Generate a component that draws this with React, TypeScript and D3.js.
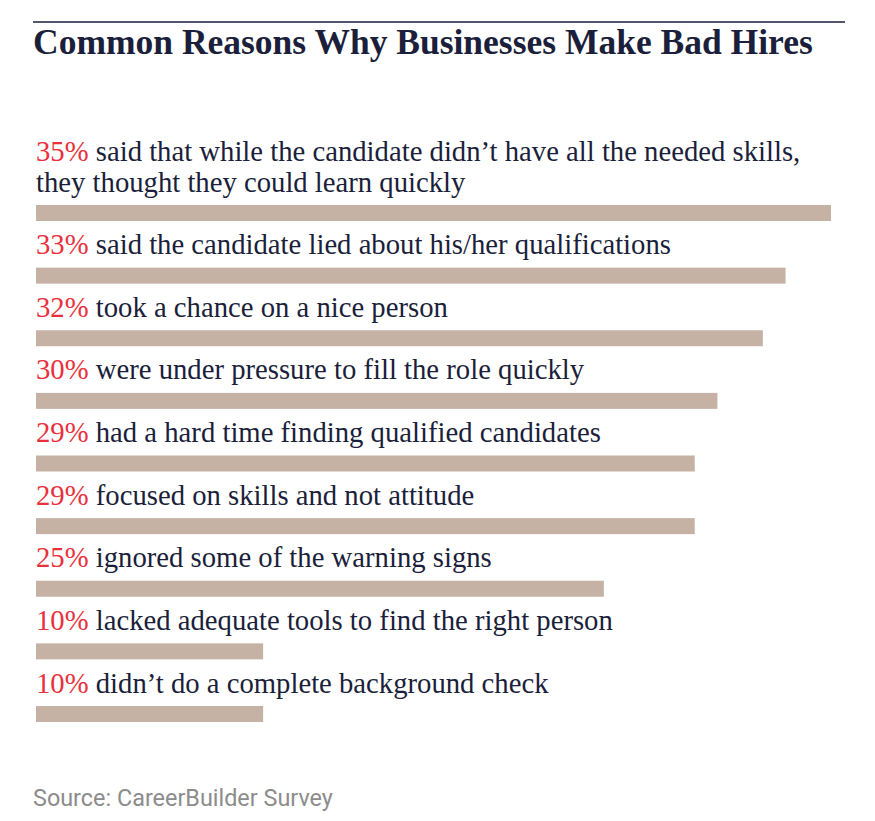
import React from "react";
import * as d3 from "d3";

// values
const percents: number[] = [35, 33, 32, 30, 29, 29, 25, 10, 10];
const reasons: string[][] = [
  ["said that while the candidate didn\u2019t have all the needed skills,", "they thought they could learn quickly"],
  ["said the candidate lied about his/her qualifications"],
  ["took a chance on a nice person"],
  ["were under pressure to fill the role quickly"],
  ["had a hard time finding qualified candidates"],
  ["focused on skills and not attitude"],
  ["ignored some of the warning signs"],
  ["lacked adequate tools to find the right person"],
  ["didn\u2019t do a complete background check"],
];
const title = "Common Reasons Why Businesses Make Bad Hires";
const source = "Source: CareerBuilder Survey";

const width = 875;
const height = 821;

const App: React.FC = () => {
  const idx = d3.range(percents.length);
  const x = d3.scaleLinear().domain([0, 35]).range([36, 831]);
  const y = d3.scalePoint<number>().domain(idx).range([205, 706]);
  const barH = 16;
  const serif = "'Liberation Serif', 'DejaVu Serif', serif";

  return (
    <svg width={width} height={height} style={{ display: "block", position: "absolute", left: 0, top: 0 }}>
      <line x1={33} x2={845} y1={22} y2={22} stroke="#1b1f3b" strokeWidth={1.5} />
      <text x={33} y={54} fontFamily={serif} fontWeight="bold" fontSize={35.5} fill="#1b1f3b">
        {title}
      </text>
      {idx.map((i) => {
        const top = y(i) as number;
        const lines = reasons[i];
        return (
          <g key={i}>
            {lines.map((ln, j) => {
              const base = top - 13.5 - (lines.length - 1 - j) * 31;
              return (
                <text key={j} x={36} y={base} fontFamily={serif} fontSize={28.7} fill="#1b1f3b">
                  {j === 0 ? (
                    <>
                      <tspan fill="#e8313c">{percents[i]}%</tspan>
                      <tspan> {ln}</tspan>
                    </>
                  ) : (
                    ln
                  )}
                </text>
              );
            })}
            <rect x={x(0)} y={top} width={x(percents[i]) - x(0)} height={barH} fill="#c5b2a5" />
          </g>
        );
      })}
      <text x={33} y={806} fontFamily="Roboto, sans-serif" fontSize={23.4} fill="#8c8c8c">
        {source}
      </text>
    </svg>
  );
};

export default App;
